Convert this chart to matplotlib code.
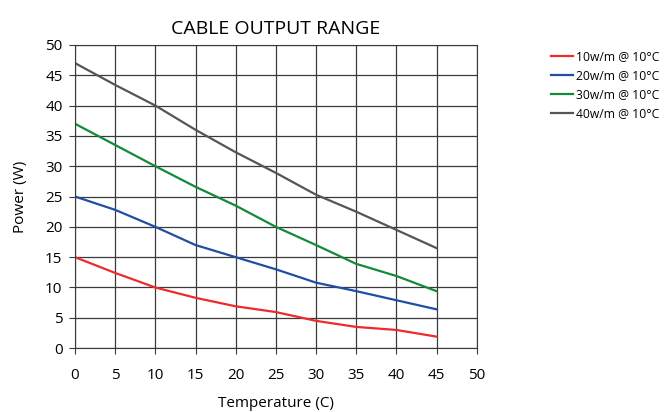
import matplotlib.pyplot as plt

temps = [0, 5, 10, 15, 20, 25, 30, 35, 40, 45]
p10 = [15, 12.4, 10, 8.3, 6.9, 5.95, 4.5, 3.5, 3.0, 1.9]
p20 = [25, 22.8, 20, 17, 15, 13, 10.8, 9.4, 7.9, 6.4]
p30 = [37, 33.5, 30, 26.6, 23.5, 20, 17, 13.9, 11.9, 9.4]
p40 = [47, 43.4, 40, 36, 32.3, 28.9, 25.3, 22.5, 19.5, 16.5]
labels = ["10w/m @ 10°C", "20w/m @ 10°C", "30w/m @ 10°C", "40w/m @ 10°C"]
colors = ["#ee2b2b", "#1f4fa3", "#128a3a", "#555555"]

plt.rcParams['font.family'] = ['Open Sans', 'DejaVu Sans']

fig = plt.figure(figsize=(6.65, 4.12), dpi=100)
ax = fig.add_axes([0.1128, 0.155, 0.604, 0.736])

for ys, lab, c in zip([p10, p20, p30, p40], labels, colors):
    ax.plot(temps, ys, color=c, lw=1.6, label=lab)

ax.set_xlim(0, 50)
ax.set_ylim(0, 50)
ax.set_xticks(range(0, 51, 5))
ax.set_yticks(range(0, 51, 5))
ax.grid(True, color="#3a3a3a", lw=0.9)
ax.set_axisbelow(True)
for s in ax.spines.values():
    s.set_color("#3a3a3a")
ax.tick_params(labelsize=11, length=4, color="#3a3a3a")
ax.tick_params(axis="x", pad=10)
ax.tick_params(axis="y", pad=5)
ax.set_xlabel("Temperature (C)", fontsize=11, labelpad=10)
ax.set_ylabel("Power (W)", fontsize=11, labelpad=12)
ax.set_title("CABLE OUTPUT RANGE", fontsize=14, pad=8)

fig.legend(loc="upper left", bbox_to_anchor=(0.812, 0.905), frameon=False,
           fontsize=8.7, handlelength=1.8, handletextpad=0.3, labelspacing=0.5)

fig.savefig("out.png", dpi=100)
